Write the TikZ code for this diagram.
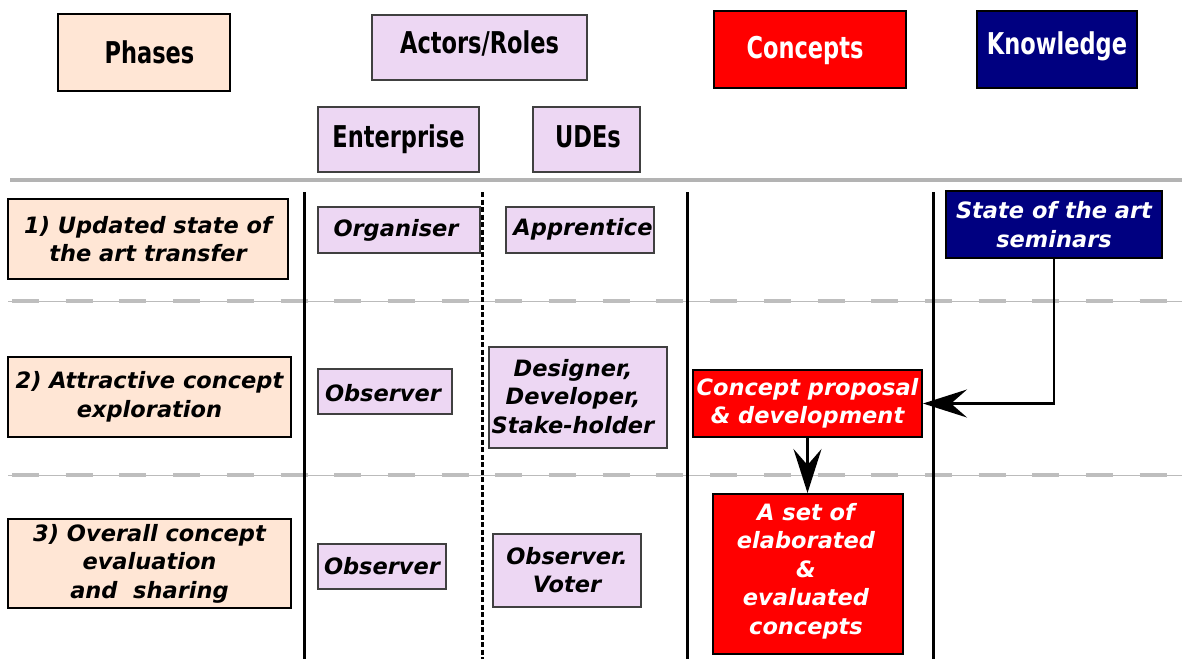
\documentclass[tikz,border=0pt]{standalone}
\usepackage{fontspec}
\setmainfont{DejaVu Sans}
\newfontfamily\hdf{DejaVu Sans}[FakeStretch=0.75]
\usetikzlibrary{arrows.meta}
\definecolor{peach}{HTML}{FFE6D5}
\definecolor{lav}{HTML}{EDD7F3}
\definecolor{navyb}{HTML}{000080}
\definecolor{sepgray}{HTML}{B3B3B3}
\tikzset{
  hd/.style={font=\hdf\bfseries\fontsize{30}{36}\selectfont, inner sep=0pt, align=center},
  rowt/.style={font=\bfseries\itshape\fontsize{22.5}{28.5}\selectfont, inner sep=0pt, align=center},
  phasebox/.style={rowt, fill=peach, draw=black, line width=2pt},
  rolebox/.style={rowt, fill=lav, draw=black!75, line width=1.3pt},
  conbox/.style={rowt, fill=red, draw=black, line width=2pt, text=white},
  knbox/.style={rowt, fill=navyb, draw=black, line width=2pt, text=white},
  vline/.style={line width=3pt, black},
  arr/.style={line width=2.2pt, -{Stealth[length=44pt,width=28pt,inset=16pt]}},
}
\begin{document}
\begin{tikzpicture}[x=1pt,y=-1pt]
\useasboundingbox (0,0) rectangle (1182,659);
% header boxes
\node[hd, fill=peach, draw=black, line width=1.5pt, minimum width=172pt, minimum height=77pt] (phases) at (144,52.5) {};
\node[hd] (phasesT) at (149.5,52.5) {Phases};
\node[hd, fill=lav, draw=black!75, line width=1.3pt, minimum width=215pt, minimum height=65pt] (actors) at (479.5,47.5) {};
\node[hd] (actorsT) at (479.5,43.5) {Actors/Roles};
\node[hd, fill=lav, draw=black!75, line width=1.3pt, minimum width=161pt, minimum height=65pt] (enterprise) at (398.5,139.5) {Enterprise};
\node[hd, fill=lav, draw=black!75, line width=1.3pt, minimum width=107pt, minimum height=65pt] (udes) at (586.5,139.5) {};
\node[hd] (udesT) at (588,137) {UDEs};
\node[hd, fill=red, draw=black, line width=1.5pt, text=white, minimum width=192pt, minimum height=77pt] (concepts) at (810,49.5) {};
\node[hd, text=white] (conceptsT) at (805,50) {Concepts};
\node[hd, fill=navyb, draw=black, line width=1.5pt, text=white, minimum width=160pt, minimum height=77pt] (knowledge) at (1057,49.5) {};
\node[hd, text=white] (knowledgeT) at (1057,46) {Knowledge};
% separators
\draw[sepgray, line width=3.5pt] (10,180) -- (1182,180);
\foreach \yy in {301,475}{
  \draw[sepgray!90, line width=1pt] (8,\yy) -- (1182,\yy);
  \draw[sepgray!85, line width=4pt, dash pattern=on 27pt off 26.7pt] (12,\yy) -- (1182,\yy);
}
% vertical lines
\draw[vline] (304,192) -- (304,659);
\draw[line width=3pt, dash pattern=on 5pt off 2.5pt] (482,192) -- (482,659);
\draw[vline] (687,192) -- (687,659);
\draw[vline] (933,192) -- (933,659);
% row 1
\node[phasebox, minimum width=280pt, minimum height=80pt] (p1) at (148,239) {1) Updated state of\\the art transfer};
\node[rolebox, minimum width=162pt, minimum height=46pt] (org) at (399,230) {};
\node[rowt] (orgT) at (396,230.5) {Organiser};
\node[rolebox, minimum width=148pt, minimum height=46pt] (app) at (580,230) {};
\node[rowt] (appT) at (583,229.5) {Apprentice};
\node[knbox, minimum width=216pt, minimum height=67pt] (sota) at (1054,224.5) {State of the art\\seminars};
% row 2
\node[phasebox, minimum width=283pt, minimum height=80pt] (p2) at (149.5,397) {2) Attractive concept\\exploration};
\node[rolebox, minimum width=134pt, minimum height=45pt] (obs2) at (385,391.5) {};
\node[rowt] (obs2T) at (383,393) {Observer};
\node[rolebox, minimum width=178pt, minimum height=101pt] (des) at (578,397.5) {};
\node[rowt] (desT) at (573,396.5) {Designer,\\Developer,\\Stake-holder};
\node[conbox, minimum width=229pt, minimum height=67pt] (cpd) at (807.5,403.5) {Concept proposal\\\& development};
% row 3
\node[phasebox, minimum width=283pt, minimum height=89pt] (p3) at (149.5,563.5) {3) Overall concept\\evaluation\\and\ \ sharing};
\node[rolebox, minimum width=128pt, minimum height=45pt] (obs3) at (382,566.5) {};
\node[rowt] (obs3T) at (382,566.5) {Observer};
\node[rolebox, minimum width=148pt, minimum height=73pt] (voter) at (567,570.5) {};
\node[rowt] (voterT) at (567,570) {Observer.\\Voter};
\node[conbox, minimum width=190pt, minimum height=160pt] (set) at (808,574) {};
\node[rowt, text=white] (setT) at (806,571) {A set of\\elaborated\\\&\\evaluated\\concepts};
% arrows
\draw[arr] (sota.south) |- (cpd.east);
\draw[arr] (cpd.south) -- (cpd.south |- set.north);
\end{tikzpicture}
\end{document}
